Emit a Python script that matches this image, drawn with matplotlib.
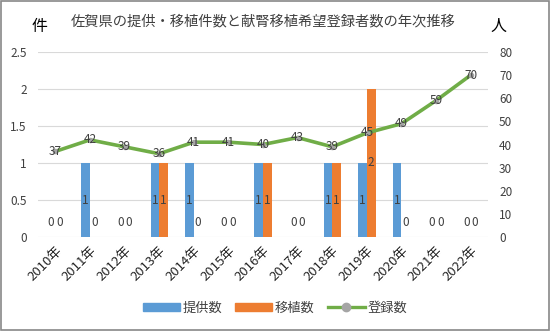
import matplotlib
matplotlib.use("Agg")
import matplotlib.pyplot as plt
import numpy as np
from matplotlib.lines import Line2D
from matplotlib.patches import Rectangle

plt.rcParams['font.family'] = ['Noto Sans CJK JP', 'DejaVu Sans']

years = ["2010年", "2011年", "2012年", "2013年", "2014年", "2015年", "2016年",
         "2017年", "2018年", "2019年", "2020年", "2021年", "2022年"]
donations = [0, 1, 0, 1, 1, 0, 1, 0, 1, 1, 1, 0, 0]
transplants = [0, 0, 0, 1, 0, 0, 1, 0, 1, 2, 0, 0, 0]
registered = [37, 42, 39, 36, 41, 41, 40, 43, 39, 45, 49, 59, 70]

BLUE = "#5B9BD5"
ORANGE = "#ED7D31"
GREEN = "#70AD47"
GRID = "#D9D9D9"
TXT = "#404040"
FS = 8.5

fig = plt.figure(figsize=(5.5, 3.31), dpi=100)
ax = fig.add_axes([38 / 550, 1 - 237 / 331, 450 / 550, 185 / 331])
x = np.arange(len(years))
w = 0.25

ax.bar(x - w / 2, donations, w, color=BLUE, zorder=2)
ax.bar(x + w / 2, transplants, w, color=ORANGE, zorder=2)
for xi, v in zip(x - w / 2, donations):
    ax.text(xi, v / 2 if v else 0.2, str(v), ha="center", va="center",
            fontsize=FS, color=TXT, zorder=5)
for xi, v in zip(x + w / 2, transplants):
    ax.text(xi, v / 2 if v else 0.2, str(v), ha="center", va="center",
            fontsize=FS, color=TXT, zorder=5)

ax.set_xlim(-0.5, len(years) - 0.5)
ax.set_ylim(0, 2.5)
ax.set_yticks(np.arange(0, 2.51, 0.5))
ax.set_yticklabels(["0", "0.5", "1", "1.5", "2", "2.5"])
ax.grid(axis="y", color=GRID, linewidth=0.8, zorder=0)
ax.set_axisbelow(True)
for s in ax.spines.values():
    s.set_visible(False)
ax.tick_params(axis="y", length=0, labelsize=FS, labelcolor=TXT, pad=8)
ax.tick_params(axis="x", length=0, labelsize=9.5, labelcolor="#262626", pad=5)
ax.set_xticks(x)
ax.set_xticklabels(years, rotation=45, ha="right", rotation_mode="anchor")

ax2 = ax.twinx()
ax2.plot(x, registered, color=GREEN, linewidth=2.6, marker="o", markersize=3,
         markerfacecolor="#A5A5A5", markeredgecolor="#A5A5A5", zorder=3)
for xi, v in zip(x, registered):
    ax2.text(xi, v, str(v), ha="center", va="center", fontsize=FS,
             color=TXT, zorder=6)
ax2.set_ylim(0, 80)
ax2.set_yticks(np.arange(0, 81, 10))
for s in ax2.spines.values():
    s.set_visible(False)
ax2.tick_params(axis="y", length=0, labelsize=FS, labelcolor=TXT, pad=8)

fig.text(263 / 550, 1 - 21 / 331, "佐賀県の提供・移植件数と献腎移植希望登録者数の年次推移",
         ha="center", va="center", fontsize=10.3, color=TXT)
fig.text(40 / 550, 1 - 26 / 331, "件", ha="center", va="center",
         fontsize=11.5, color="black")
fig.text(498 / 550, 1 - 26 / 331, "人", ha="center", va="center",
         fontsize=11.5, color="black")

handles = [
    Rectangle((0, 0), 1, 1, color=BLUE),
    Rectangle((0, 0), 1, 1, color=ORANGE),
    Line2D([], [], color=GREEN, linewidth=2.4, marker="o", markersize=6,
           markerfacecolor="#A5A5A5", markeredgecolor="#A5A5A5"),
]
fig.legend(handles, ["提供数", "移植数", "登録数"], loc="center",
           bbox_to_anchor=(0.5, 1 - 308 / 331), ncol=3, frameon=False,
           fontsize=9.5, handlelength=2.8, handleheight=0.6, columnspacing=1.0,
           handletextpad=0.2, labelcolor=TXT)

fig.patches.append(Rectangle((0.002, 0.003), 0.996, 0.994, transform=fig.transFigure,
                             fill=False, edgecolor="#888888", linewidth=1.2))

fig.savefig("out.png", dpi=100)
